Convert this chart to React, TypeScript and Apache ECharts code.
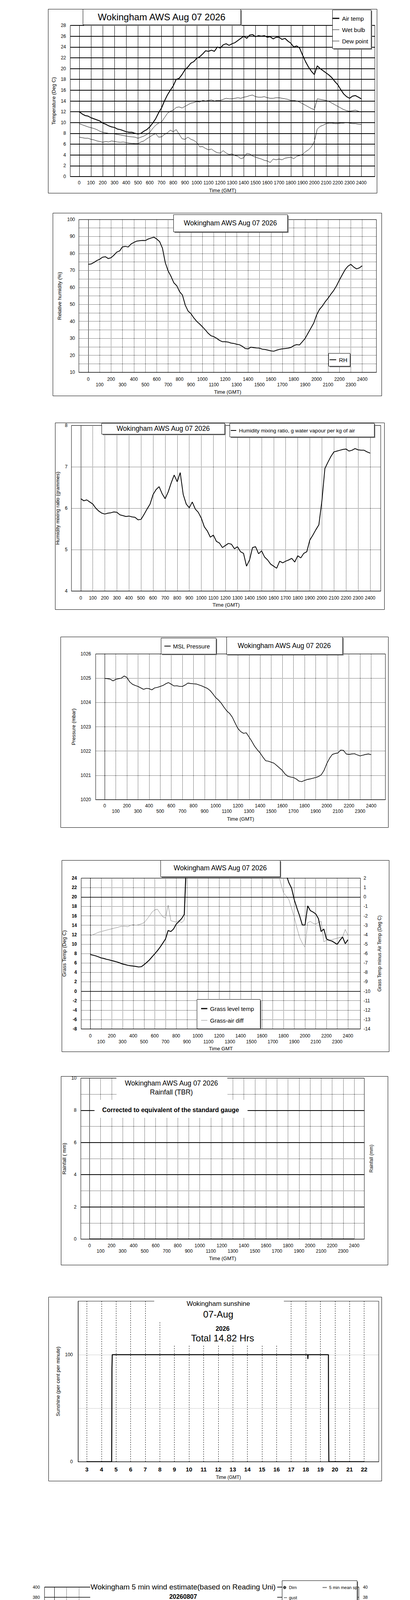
import React, { useEffect, useRef } from "react";
import * as echarts from "echarts";

const FONT = "'Liberation Sans', Arial, Helvetica, sans-serif";
const BLACK = "#000";
const PAGE_W = 1050;
const PAGE_H = 5077;

// ---------- shared tick values ----------
const HOUR_TICKS = [0, 100, 200, 300, 400, 500, 600, 700, 800, 900, 1000, 1100, 1200, 1300, 1400, 1500, 1600, 1700, 1800, 1900, 2000, 2100, 2200, 2300, 2400];
const SUN_TICKS = [3, 4, 5, 6, 7, 8, 9, 10, 11, 12, 13, 14, 15, 16, 17, 18, 19, 20, 21, 22];
const STEP = 25; // 15-minute samples on the 0..2400 time scale

// ---------- chart 1: temperatures ----------
const airTemp = [
  12.0, 11.6, 11.3, 11.2, 10.9, 10.7, 10.5, 10.3, 9.9, 9.7, 9.4, 9.2,
  9.1, 8.8, 8.7, 8.5, 8.3, 8.2, 8.2, 8.0, 7.9, 8.0, 8.4, 8.7,
  9.2, 9.9, 10.7, 11.8, 12.7, 14.0, 15.1, 16.0, 16.8, 18.0, 18.2, 18.9,
  19.8, 20.3, 21.0, 21.3, 21.9, 22.2, 22.7, 23.3, 23.2, 23.4, 23.2, 24.0,
  23.8, 24.4, 24.6, 24.3, 24.6, 24.8, 25.2, 25.6, 26.0, 25.6, 26.2, 26.3,
  25.9, 26.1, 26.0, 26.1, 25.8, 25.9, 25.5, 25.8, 25.8, 25.4, 25.6, 25.1,
  24.7, 24.0, 24.2, 23.8, 22.5, 21.3, 20.3, 19.5, 18.9, 20.5, 20.0, 19.6,
  19.2, 18.8, 18.3, 17.6, 17.0, 16.1, 15.3, 14.8, 14.5, 14.9, 15.0, 14.7,
  14.4,
];
const wetBulb = [
  9.8, 9.6, 9.4, 9.2, 9.05, 8.9, 8.7, 8.4, 8.2, 8.1, 8.0, 8.0,
  7.9, 7.8, 7.7, 7.6, 7.5, 7.4, 7.35, 7.3, 7.1, 7.3, 7.5, 7.8,
  8.2, 8.9, 9.5, 9.9, 10.1, 10.9, 11.7, 12.1, 12.3, 12.8, 12.9, 12.7,
  13.0, 13.3, 13.6, 13.7, 13.9, 13.8, 14.1, 14.0, 14.1, 14.2, 14.0, 14.1,
  14.1, 14.3, 14.5, 14.4, 14.4, 14.5, 14.6, 14.5, 14.7, 14.8, 15.0, 15.1,
  14.8, 14.7, 14.7, 14.8, 14.6, 14.5, 14.5, 14.6, 14.6, 14.5, 14.4, 14.3,
  14.1, 14.1, 14.0, 13.8, 13.5, 13.2, 12.9, 12.6, 12.4, 14.4, 14.3, 14.2,
  14.1, 13.9, 13.6, 13.3, 13.0, 12.7, 12.4, 12.2, 12.1, 12.2, 12.3, 12.1,
  11.95,
];
const dewPoint = [
  7.3, 7.2, 7.1, 7.1, 6.9, 6.8, 6.6, 6.5, 6.35, 6.5, 6.4, 6.6,
  6.5, 6.4, 6.35, 6.4, 6.3, 6.2, 6.15, 6.1, 6.1, 6.4, 6.6, 7.0,
  7.35, 7.7, 7.95, 7.3, 7.35, 7.8, 8.1, 8.6, 8.3, 8.7, 7.85, 7.0,
  6.9, 7.3, 6.9, 6.7, 6.3, 5.5, 5.55, 5.2, 4.95, 5.1, 4.7, 4.4,
  4.35, 4.8, 4.35, 4.1, 4.2, 3.9, 3.75, 3.3, 3.5, 4.3, 4.2, 3.8,
  3.6, 3.4, 3.25, 3.0, 2.9, 2.6, 3.25, 3.1, 3.25, 3.1, 3.4, 3.5,
  3.6, 3.3, 3.75, 3.9, 4.1, 4.6, 4.95, 5.5, 6.5, 8.8, 9.3, 9.5,
  9.8, 9.9, 9.9, 9.8, 9.8, 9.9, 9.9, 10.0, 9.9, 9.8, 9.8, 9.7,
  9.65,
];

// ---------- chart 2: relative humidity ----------
const relHum = [
  73.6, 73.8, 74.7, 75.8, 76.6, 77.8, 78.1, 77.0, 77.5, 79.0, 80.8, 81.5,
  83.9, 84.2, 83.8, 85.6, 86.5, 87.3, 87.5, 87.7, 87.6, 88.5, 89.1, 89.6,
  88.5, 87.0, 83.1, 74.5, 69.7, 66.5, 62.7, 61.0, 57.5, 55.5, 49.5, 46.0,
  44.5, 42.0, 40.0, 38.5, 36.8, 35.0, 33.0, 31.5, 31.0, 30.0, 28.8, 28.0,
  28.0, 27.8, 27.2, 27.0, 26.5, 26.2, 25.3, 24.0, 23.8, 24.8, 24.5, 24.3,
  24.2, 23.6, 23.4, 23.0, 22.6, 22.4, 23.0, 23.5, 23.8, 24.0, 24.2, 24.6,
  25.7, 26.3, 26.1, 28.0, 30.0, 33.0, 36.0, 39.0, 43.7, 47.0, 49.0, 51.5,
  53.6, 56.0, 58.2, 61.0, 64.4, 67.5, 70.5, 72.5, 73.6, 72.0, 70.9, 71.5,
  72.8,
];

// ---------- chart 3: humidity mixing ratio ----------
const mixRatio = [
  6.23, 6.18, 6.2, 6.15, 6.1, 6.0, 5.93, 5.88, 5.86, 5.88, 5.89, 5.91,
  5.9, 5.84, 5.82, 5.8, 5.81, 5.79, 5.78, 5.72, 5.73, 5.85, 5.98, 6.1,
  6.33, 6.45, 6.52, 6.35, 6.23, 6.39, 6.61, 6.8, 6.64, 6.86, 6.33, 6.1,
  6.01, 6.15, 5.98, 5.9, 5.76, 5.55, 5.45, 5.3, 5.35, 5.2, 5.16, 5.05,
  5.1, 5.15, 5.13, 5.02, 5.07, 4.95, 4.91, 4.6, 4.75, 5.05, 5.07, 4.9,
  4.97, 4.82, 4.75, 4.65, 4.6, 4.55, 4.72, 4.68, 4.72, 4.75, 4.79, 4.7,
  4.85, 4.8, 4.91, 4.95, 5.23, 5.35, 5.48, 5.6, 6.17, 6.96, 7.11, 7.25,
  7.36, 7.38, 7.4, 7.42, 7.43, 7.38, 7.4, 7.44, 7.41, 7.4, 7.4, 7.36,
  7.33,
];

// ---------- chart 4: MSL pressure ----------
const pressure = [
  1024.99, 1024.98, 1024.96, 1024.89, 1024.95, 1024.98, 1025.0, 1025.09,
  1025.03, 1024.85, 1024.75, 1024.7, 1024.66, 1024.6, 1024.54, 1024.58,
  1024.57, 1024.52, 1024.6, 1024.62, 1024.66, 1024.7, 1024.77, 1024.82,
  1024.75, 1024.68, 1024.69, 1024.66, 1024.66, 1024.72, 1024.8, 1024.78,
  1024.77, 1024.76, 1024.72, 1024.68, 1024.63, 1024.58, 1024.49, 1024.35,
  1024.2, 1024.1, 1023.97, 1023.8, 1023.65, 1023.55, 1023.39, 1023.15,
  1022.93, 1022.8, 1022.73, 1022.75, 1022.58, 1022.4, 1022.2, 1022.05,
  1021.92, 1021.75, 1021.6, 1021.58, 1021.54, 1021.5, 1021.4, 1021.3,
  1021.2, 1021.05, 1020.96, 1020.93, 1020.91, 1020.85, 1020.76, 1020.74,
  1020.79, 1020.83, 1020.85, 1020.88, 1020.91, 1020.95, 1021.02, 1021.2,
  1021.48, 1021.7, 1021.86, 1021.9, 1021.92, 1022.04, 1022.03, 1021.88,
  1021.86, 1021.88, 1021.89, 1021.84, 1021.8, 1021.83, 1021.86, 1021.88,
  1021.85,
];

// ---------- chart 5: grass temperature ----------
const grassTemp = [
  7.78, 7.65, 7.5, 7.3, 7.07, 6.95, 6.78, 6.65, 6.5, 6.35, 6.2, 6.0,
  5.77, 5.65, 5.49, 5.4, 5.34, 5.25, 5.14, 5.2, 5.63, 6.1, 6.63, 7.3,
  7.93, 8.6, 9.36, 10.2, 11.08, 12.9, 12.66, 13.2, 14.24, 14.8, 15.4, 16.3,
  31.0, 32.0, 33.5, 35.0, 36.2, 37.0, 37.8, 38.5, 39.0, 39.6, 40.0, 40.3,
  40.5, 40.2, 40.6, 40.1, 39.8, 39.5, 39.0, 38.6, 38.0, 37.2, 36.5, 35.8,
  35.0, 34.0, 33.2, 32.4, 31.5, 30.6, 29.8, 29.0, 28.2, 27.4, 26.6, 25.8,
  25.4, 24.7, 23.0, 21.85, 19.4, 17.6, 15.96, 14.04, 14.04, 18.1, 17.1, 16.8,
  16.4, 15.4, 12.66, 13.2, 11.08, 10.8, 10.65, 10.3, 9.93, 10.8, 11.5, 10.08,
  10.94,
];
const grassAirDiff = [
  -4.1, -4.0, -3.88, -3.75, -3.67, -3.6, -3.52, -3.45, -3.38, -3.3, -3.24, -3.15,
  -3.09, -3.12, -3.16, -3.0, -2.95, -3.0, -2.95, -2.85, -2.73, -2.4, -2.02, -1.6,
  -1.37, -1.3, -1.73, -2.1, -2.23, -0.87, -2.52, -2.6, -2.66, -2.5, -2.73, -2.45,
  4.0, 8.0, 10.5, 12.0, 13.0, 13.8, 14.3, 14.7, 15.2, 15.5, 15.8, 16.0,
  16.3, 16.0, 15.6, 16.0, 15.5, 15.0, 14.3, 13.4, 12.6, 12.4, 11.0, 10.2,
  9.9, 8.9, 8.0, 7.2, 6.6, 5.6, 5.1, 4.8, 4.2, 3.6, 2.6, 1.43,
  0.42, 0.1, -0.3, -1.2, -2.16, -3.3, -4.31, -4.9, -5.32, -2.73, -2.59, -2.8,
  -2.88, -2.7, -2.59, -4.75, -4.6, -4.55, -4.53, -4.45, -4.38, -4.3, -4.24, -3.45,
  -4.1,
];
const grassRefLines = [20, 0];

// ---------- chart 6: rainfall ----------
const rainTimes = [0, 600, 1200, 1800, 2400];
const rainMm = [0, 0, 0, 0, 0];
const rainSolidLines = [2, 4, 6, 8];

// ---------- chart 7: sunshine ----------
const sunHours = [3, 4.7, 4.71, 4.72, 4.74, 18.13, 18.14, 18.16, 19.55, 19.56, 19.58, 22];
const sunPct = [0, 0, 35, 87, 100, 100, 96, 100, 100, 36, 0, 0];

// ---------- chart 8: wind ----------
const windDir: number[][] = [
  [4, 310], [19, 308], [30, 315], [36, 321], [45, 337], [53, 341], [60, 332], [70, 324], [77, 317], [85, 308],
  [94, 305], [100, 307], [102, 303], [111, 315], [117, 315], [126, 306], [137, 295], [145, 281], [154, 277], [160, 277],
  [169, 270], [177, 248], [186, 225], [194, 222], [203, 222], [213, 360], [221, 360], [229, 360], [238, 360], [246, 360],
  [254, 360], [263, 360], [271, 360], [279, 360], [290, 222], [303, 360], [311, 360], [319, 360], [328, 360], [336, 360],
  [344, 360], [353, 360], [361, 360], [369, 360], [378, 360], [389, 222], [399, 222], [412, 360], [425, 360], [442, 222],
  [453, 222], [468, 360], [478, 360], [491, 360], [506, 292], [517, 290], [530, 360], [542, 277], [551, 287], [560, 292],
  [568, 288], [577, 282], [587, 279], [598, 281], [608, 275], [617, 298], [628, 311], [634, 319], [645, 329], [658, 341],
  [668, 347], [677, 358], [688, 355], [694, 355], [705, 5], [711, 38], [722, 48], [728, 61], [737, 74], [743, 46],
  [754, 355], [765, 12], [769, 67], [777, 118], [786, 82], [794, 12], [803, 24], [811, 48], [818, 53], [828, 88],
  [835, 136], [843, 60], [852, 48], [861, 46], [867, 315], [877, 321], [886, 351], [895, 22], [905, 33], [914, 33],
  [918, 328], [929, 292], [935, 226], [944, 248], [950, 247], [957, 311], [961, 343], [972, 316], [980, 278], [987, 292],
  [997, 261], [1001, 164], [1014, 59], [1019, 101], [1025, 116], [1036, 162], [1044, 167], [1051, 162], [1061, 289], [1068, 261],
  [1078, 226], [1085, 230], [1093, 221], [1104, 196], [1110, 146], [1119, 189], [1127, 223], [1136, 236], [1145, 252], [1151, 257],
  [1160, 260], [1170, 218], [1177, 186], [1187, 196], [1194, 194], [1200, 158], [1211, 134], [1217, 202], [1228, 265], [1234, 297],
  [1245, 281], [1251, 261], [1256, 282], [1268, 307], [1277, 324], [1284, 314], [1294, 256], [1300, 243], [1311, 225], [1320, 263],
  [1326, 263], [1335, 273], [1343, 319], [1352, 326], [1360, 300], [1369, 280], [1377, 244], [1386, 208], [1394, 172], [1403, 211],
  [1411, 235], [1418, 232], [1428, 235], [1435, 223], [1443, 200], [1452, 207], [1461, 232], [1469, 210], [1476, 178], [1486, 149],
  [1493, 214], [1501, 225], [1508, 263], [1516, 284], [1527, 263], [1533, 258], [1542, 252], [1550, 214], [1557, 198], [1565, 212],
  [1576, 211], [1584, 230], [1595, 244], [1604, 240], [1610, 223], [1619, 236], [1627, 242], [1638, 219], [1642, 211], [1651, 235],
  [1659, 287], [1666, 281], [1676, 238], [1685, 229], [1691, 269], [1702, 287], [1706, 280], [1717, 274], [1725, 310], [1734, 342],
  [1742, 317], [1751, 322], [1759, 355], [1766, 8], [1777, 308], [1785, 285], [1792, 296], [1800, 297], [1809, 293], [1815, 299],
  [1830, 325], [1836, 340], [1845, 358], [1853, 5], [1858, 5], [1868, 351], [1879, 332], [1888, 332], [1896, 332], [1903, 341],
  [1911, 354], [1920, 353], [1926, 348], [1935, 343], [1943, 340], [1950, 345], [1958, 346], [1967, 350], [1975, 353], [1988, 359],
  [2001, 360], [2005, 2], [2011, 360], [2016, 135], [2024, 138], [2035, 155], [2044, 198], [2052, 212], [2061, 171], [2069, 162],
  [2078, 164], [2088, 174], [2095, 183], [2101, 191], [2110, 193], [2118, 199], [2129, 194], [2138, 189], [2144, 194], [2152, 196],
  [2161, 197], [2170, 185], [2176, 190], [2185, 200], [2193, 202], [2199, 205], [2208, 208], [2216, 225], [2225, 229], [2234, 223],
  [2240, 229], [2251, 260], [2259, 270], [2268, 278], [2274, 278], [2285, 360], [2293, 360], [2302, 360], [2310, 111], [2319, 109],
  [2327, 126], [2333, 158], [2340, 143], [2350, 122], [2359, 148], [2369, 157], [2376, 166], [2385, 172], [2393, 154],
];
const SPEED_T0 = 4;
const SPEED_DT = 21.35;
const meanSpeed = [
  0.7, 0.9, 1.9, 2.2, 1.7, 1.7, 1.2, 0.3, 1.1, 0.6, 0.1, 0.1, 0.1, 0.2, 0.1, 0.1, 0.1, 0.3, 0.4, 0.2,
  0.1, 0.2, 0.1, 0.1, 0.1, 0.6, 1.1, 1.5, 1.2, 1.7, 1.1, 1.5, 2.5, 2.0, 1.7, 2.7, 2.3, 3.0, 3.5, 2.8,
  3.3, 2.7, 3.6, 3.0, 3.8, 4.4, 3.0, 1.4, 2.5, 4.1, 5.4, 4.8, 4.3, 5.7, 6.5, 5.4, 6.2, 4.6, 5.4, 7.0,
  5.1, 6.5, 6.0, 7.3, 4.8, 2.5, 5.7, 6.7, 6.0, 4.4, 3.0, 5.1, 4.4, 5.1, 5.7, 3.0, 4.1, 4.8, 5.1, 4.4,
  5.4, 5.7, 4.8, 2.5, 3.8, 3.3, 4.3, 4.9, 4.4, 3.0, 2.7, 2.0, 1.7, 1.1, 0.1, 1.2, 3.1, 2.0, 3.8, 4.1,
  4.0, 3.6, 3.5, 2.8, 3.1, 2.2, 0.9, 0.3, 0.1, 1.9, 2.0, 1.4, 1.5,
];
const gustSpeed = [
  1.4, 2.8, 2.5, 3.8, 2.5, 2.2, 0.9, 1.1, 2.7, 0.6, 0.1, 0.1, 0.1, 0.9, 0.1, 0.1, 0.1, 1.5, 0.3, 0.1,
  1.4, 0.1, 0.1, 0.1, 0.2, 2.5, 1.9, 2.2, 2.8, 2.7, 2.8, 3.5, 4.1, 2.5, 4.4, 3.1, 2.8, 5.4, 6.0, 4.8,
  5.7, 4.9, 6.0, 7.3, 9.6, 7.0, 4.4, 3.5, 6.0, 8.0, 9.9, 6.7, 8.3, 12.1, 8.6, 8.9, 10.7, 6.7, 12.1, 8.9,
  7.0, 10.5, 10.9, 9.3, 6.7, 4.4, 13.1, 11.5, 10.2, 9.6, 6.4, 10.2, 8.6, 9.6, 11.8, 6.4, 7.6, 8.6, 10.1, 8.0,
  7.6, 8.9, 7.3, 2.8, 8.3, 7.0, 8.6, 8.9, 7.6, 5.7, 5.1, 4.1, 3.8, 2.5, 0.3, 6.0, 4.8, 5.7, 7.0, 7.3,
  5.4, 6.0, 4.8, 5.7, 5.4, 2.5, 1.5, 0.6, 0.3, 3.0, 2.7, 2.8, 4.4,
];

// ---------- helpers ----------
const onGrid = (vals: number[]) => vals.map((v, i) => [i * STEP, v]);
const zipPairs = (xs: number[], ys: number[]) => xs.map((x, i) => [x, ys[i]]);
const speedPairs = (vals: number[]) => vals.map((v, i) => [SPEED_T0 + i * SPEED_DT, v]);

const nameStyle = (size = 13) => ({ fontFamily: FONT, fontSize: size, color: BLACK });
const DOTTED = { color: BLACK, width: 1, type: "dotted" as const };

function xTime(gridIndex: number, min: number, max: number, o: any) {
  const twoRow = !!o.twoRow;
  return {
    type: "value",
    gridIndex,
    min,
    max,
    axisLine: { show: true, onZero: false, lineStyle: { color: BLACK, width: 1 } },
    axisTick: { show: false, customValues: o.ticks || HOUR_TICKS },
    axisLabel: {
      customValues: o.ticks || HOUR_TICKS,
      margin: o.margin,
      fontFamily: FONT,
      fontSize: o.labelSize || 12,
      fontWeight: o.labelWeight || "normal",
      color: BLACK,
      lineHeight: o.lineHeight || 14,
      formatter: (v: number) => (twoRow && (v / 100) % 2 !== 0 ? "\n" + v : String(v)),
    },
    splitLine: { show: true, lineStyle: o.split || DOTTED },
    name: o.name,
    nameLocation: "middle",
    nameGap: o.nameGap,
    nameTextStyle: nameStyle(o.nameSize || 13),
  };
}

function yVal(gridIndex: number, min: number, max: number, interval: number, o: any) {
  return {
    type: "value",
    gridIndex,
    min,
    max,
    interval,
    position: o.position || "left",
    axisLine: { show: o.axisLine !== false, lineStyle: { color: BLACK, width: 1 } },
    axisTick: { show: false },
    axisLabel: {
      show: o.labels !== false,
      margin: o.margin,
      fontFamily: FONT,
      fontSize: o.labelSize || 12,
      fontWeight: o.labelWeight || "normal",
      color: BLACK,
      formatter: o.formatter || ((v: number) => String(v)),
    },
    splitLine: o.split ? { show: true, lineStyle: o.split } : { show: false },
    name: o.name,
    nameLocation: "middle",
    nameGap: o.nameGap,
    nameTextStyle: nameStyle(o.nameSize || 13),
  };
}

function line(xi: number, yi: number, data: any[], color: string, width: number, extra: any = {}) {
  return {
    type: "line",
    xAxisIndex: xi,
    yAxisIndex: yi,
    data,
    symbol: "none",
    showSymbol: false,
    silent: true,
    clip: true,
    lineStyle: { color, width },
    itemStyle: { color },
    ...extra,
  };
}

// ---------- decoration (boxes, titles, legends) ----------
function buildGraphics() {
  const g: any[] = [];
  const frame = (x1: number, y1: number, x2: number, y2: number) =>
    g.push({ type: "rect", z: 90, silent: true, shape: { x: x1 + 0.5, y: y1 + 0.5, width: x2 - x1, height: y2 - y1 }, style: { fill: "none", stroke: BLACK, lineWidth: 1 } });
  const shadowBox = (x1: number, y1: number, x2: number, y2: number) => {
    g.push({ type: "rect", z: 100, silent: true, shape: { x: x1 + 3, y: y1 + 3, width: x2 - x1, height: y2 - y1 }, style: { fill: "#7a7a7a", stroke: "none" } });
    g.push({ type: "rect", z: 101, silent: true, shape: { x: x1 + 0.5, y: y1 + 0.5, width: x2 - x1, height: y2 - y1 }, style: { fill: "#fff", stroke: BLACK, lineWidth: 1 } });
  };
  const blank = (x1: number, y1: number, x2: number, y2: number) =>
    g.push({ type: "rect", z: 100, silent: true, shape: { x: x1, y: y1, width: x2 - x1, height: y2 - y1 }, style: { fill: "#fff", stroke: "none" } });
  const text = (x: number, y: number, s: string, size: number, align = "center", weight = "normal") =>
    g.push({
      type: "text", z: 103, silent: true, x, y,
      style: { text: s, fill: BLACK, font: `${weight} ${size}px ${FONT}`, textAlign: align, textVerticalAlign: "middle" },
    });
  const seg = (x1: number, x2: number, y: number, color: string, w: number) =>
    g.push({ type: "line", z: 103, silent: true, shape: { x1, y1: y, x2, y2: y }, style: { stroke: color, lineWidth: w } });

  // chart 1
  frame(123, 23, 965, 494);
  shadowBox(212, 23, 616, 63);
  text(414, 43, "Wokingham AWS Aug 07 2026", 24);
  shadowBox(851, 25, 950, 124);
  seg(852, 869, 47, BLACK, 3); text(876, 47, "Air temp", 15, "left");
  seg(852, 869, 76, BLACK, 1); text(876, 76, "Wet bulb", 15, "left");
  seg(852, 869, 105, BLACK, 1); text(876, 105, "Dew point", 15, "left");

  // chart 2
  frame(135, 545, 977, 1013);
  shadowBox(444, 549, 736, 593);
  text(590, 571, "Wokingham AWS Aug 07 2026", 17.5);
  shadowBox(841, 904, 896, 937);
  seg(844, 861, 921, BLACK, 2); text(868, 921, "RH", 15, "left");

  // chart 3
  frame(141, 1082, 984, 1560);
  shadowBox(260, 1083, 575, 1111);
  text(418, 1097, "Wokingham AWS Aug 07 2026", 17.5);
  shadowBox(588, 1083, 958, 1118);
  seg(591, 605, 1102, BLACK, 2); text(612, 1102, "Humidity mixing ratio, g water vapour per kg of air", 13.5, "left");

  // chart 4
  frame(155, 1630, 994, 2118);
  shadowBox(412, 1633, 553, 1674);
  seg(421, 437, 1654, BLACK, 2); text(443, 1654, "MSL Pressure", 15, "left");
  shadowBox(580, 1630, 877, 1675);
  text(728, 1653, "Wokingham AWS Aug 07 2026", 17.5);

  // chart 5
  frame(158, 2202, 996, 2692);
  shadowBox(411, 2202, 717, 2244);
  text(564, 2222, "Wokingham AWS Aug 07 2026", 17.5);
  shadowBox(504, 2558, 666, 2633);
  seg(515, 531, 2582, BLACK, 3); text(538, 2582, "Grass level temp", 15, "left");
  seg(515, 531, 2612, "#808080", 1); text(538, 2612, "Grass-air diff", 15, "left");

  // chart 6
  frame(156, 2755, 993, 3238);
  blank(298, 2759, 582, 2816);
  blank(242, 2816, 634, 2862);
  text(439, 2773, "Wokingham AWS Aug 07 2026", 17.5);
  text(439, 2796, "Rainfall (TBR)", 17.5);
  text(437, 2841, "Corrected to equivalent of the standard gauge", 16, "center", "bold");

  // chart 7
  frame(124, 3320, 977, 3791);
  blank(395, 3328, 727, 3385);
  blank(415, 3385, 725, 3442);
  text(559, 3337, "Wokingham sunshine", 17);
  text(559, 3364, "07-Aug", 24);
  text(570, 3401, "2026", 16, "center", "bold");
  text(570, 3425, "Total 14.82 Hrs", 24);

  // chart 8
  blank(231, 4046, 710, 4099);
  text(469, 4062, "Wokingham 5 min wind estimate(based on Reading Uni)", 19);
  text(469, 4087, "20260807", 16, "center", "bold");
  shadowBox(722, 4046, 914, 4102);
  g.push({ type: "circle", z: 103, silent: true, shape: { cx: 729, cy: 4064, r: 3.5 }, style: { fill: "#555", stroke: BLACK, lineWidth: 0.8 } });
  text(740, 4064, "Dirn", 11, "left");
  seg(826, 837, 4064, "#808080", 2.5); text(843, 4064, "5 min mean sp", 11, "left");
  seg(727, 735, 4090, BLACK, 1); text(740, 4090, "gust", 11, "left");
  g.push({ type: "line", z: 90, silent: true, shape: { x1: 38, y1: 4636, x2: 988, y2: 4636 }, style: { stroke: BLACK, lineWidth: 2 } });
  return g;
}

function buildOption() {
  const gridBase = { show: true, borderColor: BLACK, borderWidth: 1, backgroundColor: "#fff" };
  return {
    animation: false,
    backgroundColor: "#fff",
    textStyle: { fontFamily: FONT },
    grid: [
      { ...gridBase, left: 180, top: 65, width: 780, height: 387 },
      { ...gridBase, left: 202, top: 562, width: 762, height: 391 },
      { ...gridBase, left: 183, top: 1089, width: 792, height: 424 },
      { ...gridBase, left: 245, top: 1674, width: 742, height: 373 },
      { ...gridBase, left: 208, top: 2248, width: 715, height: 386 },
      { ...gridBase, left: 207, top: 2760, width: 726, height: 412 },
      { ...gridBase, left: 200, top: 3331, width: 770, height: 411 },
      { ...gridBase, left: 114, top: 4063, width: 805, height: 511 },
    ],
    xAxis: [
      xTime(0, -76, 2515, { margin: 9, split: { color: BLACK, width: 1 }, name: "Time (GMT)", nameGap: 28.5 }),
      xTime(1, -82, 2524, { margin: 11, twoRow: true, name: "Time (GMT)", nameGap: 43.5 }),
      xTime(2, -77, 2488, { margin: 11, name: "Time (GMT)", nameGap: 28.5 }),
      xTime(3, -81, 2528, { margin: 9, twoRow: true, name: "Time (GMT)", nameGap: 42.5 }),
      xTime(4, -85, 2516, { margin: 10, twoRow: true, lineHeight: 15, name: "Time GMT", nameGap: 43.5 }),
      xTime(5, -79, 2492, { margin: 10.5, twoRow: true, lineHeight: 13.7, name: "Time (GMT)", nameGap: 42.5 }),
      xTime(6, 2.4, 23, { ticks: SUN_TICKS, margin: 10, labelSize: 15, labelWeight: "bold", lineHeight: 18, split: { color: BLACK, width: 1, type: [3, 3] }, name: "Time (GMT)", nameSize: 12, nameGap: 33.5 }),
      xTime(7, -80, 2485, { margin: 9.5, labelSize: 11, name: "Time, hours GMT", nameSize: 16, nameGap: 28.5 }),
    ],
    yAxis: [
      yVal(0, 0, 28, 2, { margin: 11, split: { color: BLACK, width: 2 }, name: "Temperature (Deg C)", nameGap: 36.5 }),
      yVal(1, 10, 100, 5, { margin: 10, split: DOTTED, formatter: (v: number) => (v % 10 === 0 ? String(v) : ""), name: "Relative humidity (%)", nameGap: 43 }),
      yVal(2, 4, 8, 1, { margin: 10, split: DOTTED, name: "Humidity mixing ratio (grammes)", nameGap: 29 }),
      yVal(3, 1020, 1026, 1, { margin: 12, split: DOTTED, name: "Pressure (mbar)", nameGap: 50.5 }),
      yVal(4, -8, 24, 2, { margin: 11, labelWeight: "bold", split: DOTTED, name: "Grass Temp (Deg C)", nameGap: 37 }),
      yVal(4, -14, 2, 1, { position: "right", axisLine: false, margin: 8, name: "Grass Temp minus Air Temp (Deg C)", nameSize: 12, nameGap: 43 }),
      yVal(5, 0, 10, 1, { margin: 11, split: DOTTED, formatter: (v: number) => (v % 2 === 0 ? String(v) : ""), name: "Rainfall ( mm)", nameGap: 36 }),
      yVal(5, 0, 10, 2, { position: "right", axisLine: false, labels: false, name: "Rainfall (mm)", nameSize: 12, nameGap: 12 }),
      yVal(6, 0, 150, 50, { margin: 13.5, split: { color: "#9a9a9a", width: 1, type: "dotted" }, formatter: (v: number) => (v === 0 || v === 100 ? String(v) : ""), name: "Sunshine (per cent per minute)", nameGap: 45 }),
      yVal(7, 0, 400, 20, { margin: 12, labelSize: 11, split: { color: BLACK, width: 1.5 }, name: "Degrees", nameSize: 16, nameGap: 42 }),
      yVal(7, 0, 40, 2, { position: "right", axisLine: false, margin: 10.5, labelSize: 11, name: "knots", nameSize: 16, nameGap: 37.5 }),
    ],
    series: [
      line(0, 0, onGrid(dewPoint), BLACK, 1),
      line(0, 0, onGrid(wetBulb), BLACK, 1),
      line(0, 0, onGrid(airTemp), BLACK, 2.2),
      line(1, 1, onGrid(relHum), BLACK, 2),
      line(2, 2, onGrid(mixRatio), BLACK, 2),
      line(3, 3, onGrid(pressure), BLACK, 1.6),
      line(4, 5, onGrid(grassAirDiff), "#808080", 1),
      line(4, 4, onGrid(grassTemp), BLACK, 2.2, {
        markLine: {
          silent: true,
          symbol: "none",
          label: { show: false },
          lineStyle: { color: BLACK, width: 1.5, type: "solid" },
          data: grassRefLines.map((v) => ({ yAxis: v })),
        },
      }),
      line(5, 6, zipPairs(rainTimes, rainMm), BLACK, 2.5, {
        markLine: {
          silent: true,
          symbol: "none",
          label: { show: false },
          lineStyle: { color: BLACK, width: 2, type: "solid" },
          data: rainSolidLines.map((v) => ({ yAxis: v })),
        },
      }),
      line(6, 8, zipPairs(sunHours, sunPct), BLACK, 2.5),
      line(7, 10, speedPairs(gustSpeed), BLACK, 1),
      line(7, 10, speedPairs(meanSpeed), "#808080", 2),
      {
        type: "scatter",
        xAxisIndex: 7,
        yAxisIndex: 9,
        data: windDir,
        symbol: "circle",
        symbolSize: 7,
        silent: true,
        itemStyle: { color: "#555", borderColor: BLACK, borderWidth: 0.8 },
      },
    ],
    graphic: { elements: buildGraphics() },
  };
}

export default function App() {
  const ref = useRef<HTMLDivElement>(null);
  useEffect(() => {
    if (!ref.current) return;
    const chart = echarts.init(ref.current, undefined, { renderer: "svg", width: PAGE_W, height: PAGE_H });
    chart.setOption(buildOption() as any);
    return () => chart.dispose();
  }, []);
  return (
    <div
      ref={ref}
      style={{ width: PAGE_W, height: PAGE_H, margin: "-8px 0 0 -8px", background: "#fff", overflow: "hidden" }}
    />
  );
}
